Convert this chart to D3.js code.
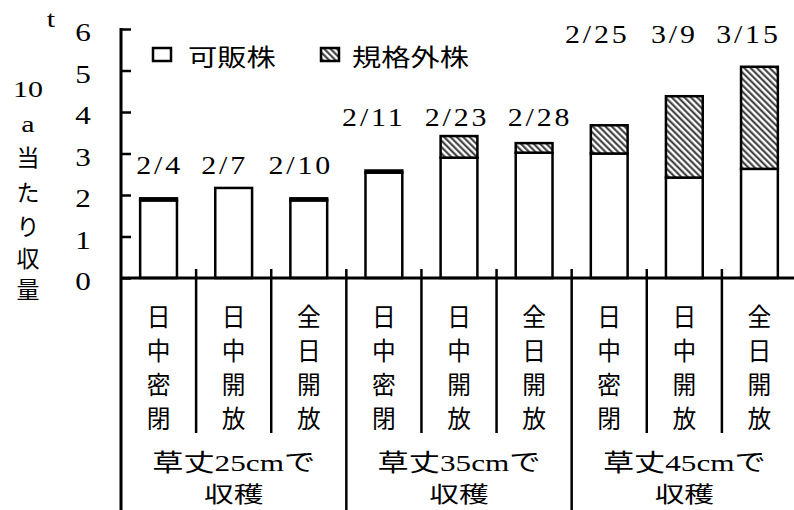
<!DOCTYPE html>
<html><head><meta charset="utf-8">
<script src="https://cdn.jsdelivr.net/npm/d3@7"></script>
<style>body{margin:0;background:#fff}svg{display:block}</style>
</head><body>
<svg id="c" width="794" height="510"></svg>
<script>
const dates = ["2/4","2/7","2/10","2/11","2/23","2/28","2/25","3/9","3/15"];
const methods = ["日中密閉","日中開放","全日開放","日中密閉","日中開放","全日開放","日中密閉","日中開放","全日開放"];
const groupLine1 = ["草丈25cmで","草丈35cmで","草丈45cmで"];
const groupLine2 = ["収穫","収穫","収穫"];
const marketable = [1.87, 2.17, 1.87, 2.54, 2.90, 3.02, 3.00, 2.42, 2.63];
const offgrade   = [0.05, 0.00, 0.05, 0.05, 0.52, 0.23, 0.68, 1.96, 2.46];
const yTicks = [0,1,2,3,4,5,6];
const legendLabels = ["可販株","規格外株"];
const yTitleTop = ["t","10","a"];
const yTitleChars = ["当","た","り","収","量"];

const svg = d3.select("#c");
const FONT = "'Liberation Serif','Noto Sans CJK JP',serif";
const CJK = "'Noto Sans CJK JP','Liberation Serif',sans-serif";

const x = d3.scaleBand().domain(d3.range(dates.length)).range([121, 797]).paddingInner(0.51).paddingOuter(0.255);
const y = d3.scaleLinear().domain([0, 6]).range([278, 29]);

const defs = svg.append("defs");
const pat = defs.append("pattern").attr("id","hatch").attr("patternUnits","userSpaceOnUse")
  .attr("width",4.5).attr("height",4.5).attr("patternTransform","rotate(-45)");
pat.append("rect").attr("width",4.5).attr("height",4.5).attr("fill","#fff");
pat.append("line").attr("x1",1.2).attr("x2",1.2).attr("y1",0).attr("y2",4.5)
  .attr("stroke","#333").attr("stroke-width",2);

function txt(g, s, px, py, size, sx, anchor, baseline, fam){
  return g.append("text").attr("transform",`translate(${px},${py}) scale(${sx},1)`)
    .attr("text-anchor",anchor||"middle").attr("dominant-baseline",baseline||"auto")
    .style("font-family",fam||FONT).attr("font-size",size).attr("fill","#000").text(s);
}

// bars
const bars = svg.append("g");
dates.forEach((d,i)=>{
  const bx = x(i), bw = x.bandwidth();
  bars.append("rect").attr("x",bx).attr("width",bw)
    .attr("y",y(marketable[i])).attr("height",y(0)-y(marketable[i]))
    .attr("fill","#fff").attr("stroke","#000").attr("stroke-width",2.5);
  if (offgrade[i] > 0) {
    const top = marketable[i] + offgrade[i];
    bars.append("rect").attr("x",bx).attr("width",bw)
      .attr("y",y(top)).attr("height",y(marketable[i])-y(top))
      .attr("fill","url(#hatch)").attr("stroke","#000").attr("stroke-width",2.5);
  }
});

// y axis
const yAxis = d3.axisRight(y).tickValues(yTicks).tickSize(10).tickFormat("");
const ya = svg.append("g").attr("transform","translate(121,0)").call(yAxis);
ya.select(".domain").remove();
ya.selectAll(".tick line").attr("stroke","#000").attr("stroke-width",2.5);
yTicks.forEach(t=>{ txt(svg, String(t), 83, y(t)+12, 26, 1.2); });

// left axis line, full height
svg.append("line").attr("x1",121).attr("x2",121).attr("y1",y(6)-1).attr("y2",510)
  .attr("stroke","#000").attr("stroke-width",3);
// baseline
svg.append("line").attr("x1",121).attr("x2",794).attr("y1",y(0)).attr("y2",y(0))
  .attr("stroke","#000").attr("stroke-width",3);

// boundaries
d3.range(1, dates.length).forEach(i=>{
  const bxp = x(i) - (x.step()-x.bandwidth())/2;
  svg.append("line").attr("x1",bxp).attr("x2",bxp).attr("y1",y(0)-9).attr("y2",y(0))
    .attr("stroke","#000").attr("stroke-width",2.5);
  const isGroup = i % 3 === 0;
  svg.append("line").attr("x1",bxp).attr("x2",bxp).attr("y1",y(0)).attr("y2", isGroup ? 510 : 433)
    .attr("stroke","#000").attr("stroke-width",2.5);
});

// date labels
const groupLabelY = [174, 126, 43];
const labelDx = [1, -9, -8, -10, -2, 6, -12, -10, -11];
dates.forEach((d,i)=>{
  const g = Math.floor(i/3);
  txt(svg, d, x(i)+x.bandwidth()/2 + labelDx[i], groupLabelY[g], 26, 1.15).attr("letter-spacing", 2.5);
});

// vertical method labels
methods.forEach((m,i)=>{
  const cx = x(i)+x.bandwidth()/2;
  Array.from(m).forEach((ch,k)=>{
    txt(svg, ch, cx, 315 + k*34, 25, 0.95, "middle", "central", CJK);
  });
});

// group labels
groupLine1.forEach((g,j)=>{
  const cx = (x(j*3) + x(j*3+2) + x.bandwidth())/2;
  txt(svg, g, cx, 463, 24, 1.3, "middle", "central");
  txt(svg, groupLine2[j], cx, 493, 22, 1.35, "middle", "central", CJK);
});

// y title
txt(svg, yTitleTop[0], 51, 27, 24, 1.25);
txt(svg, yTitleTop[1], 28, 97, 24, 1.25);
txt(svg, yTitleTop[2], 28, 132, 24, 1.25);
yTitleChars.forEach((ch,k)=>{
  txt(svg, ch, 28, [156,191,225,257,288][k], 23, 1.0, "middle", "central", CJK);
});

// legend
const lg = svg.append("g");
lg.append("rect").attr("x",153).attr("y",48).attr("width",18).attr("height",13)
  .attr("fill","#fff").attr("stroke","#000").attr("stroke-width",2.5);
txt(lg, legendLabels[0], 188, 56, 24, 1.22, "start", "central", CJK);
lg.append("rect").attr("x",321).attr("y",48).attr("width",18).attr("height",13)
  .attr("fill","url(#hatch)").attr("stroke","#000").attr("stroke-width",2.5);
txt(lg, legendLabels[1], 352, 56, 24, 1.22, "start", "central", CJK);
</script>
</body></html>
